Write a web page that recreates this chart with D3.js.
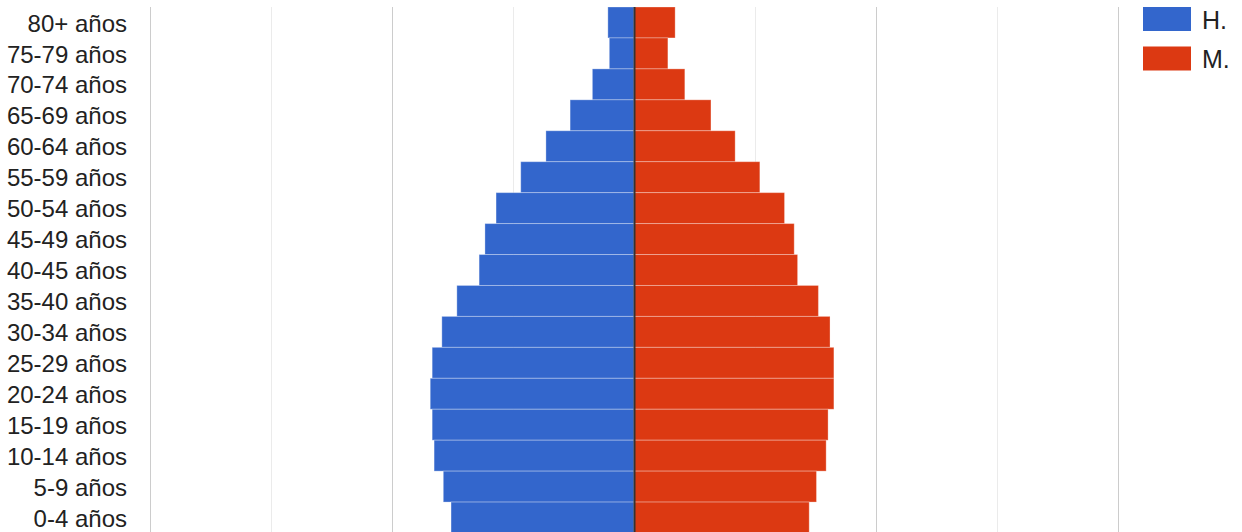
<!DOCTYPE html>
<html>
<head>
<meta charset="utf-8">
<script src="https://cdn.jsdelivr.net/npm/d3@7"></script>
<style>
  html, body { margin: 0; padding: 0; background: #fff; }
  svg { display: block; }
  text { font-family: Arial, "Liberation Sans", sans-serif; }
</style>
</head>
<body>
<svg id="chart" width="1242" height="532"></svg>
<script>
// Age groups, top of the pyramid first
const categories = ["80+ años", "75-79 años", "70-74 años", "65-69 años", "60-64 años",
  "55-59 años", "50-54 años", "45-49 años", "40-45 años", "35-40 años", "30-34 años",
  "25-29 años", "20-24 años", "15-19 años", "10-14 años", "5-9 años", "0-4 años"];
// Share of total population (%)
const hombres = [0.54, 0.51, 0.86, 1.32, 1.82, 2.34, 2.85, 3.08, 3.20, 3.66, 3.97,
  4.17, 4.21, 4.17, 4.13, 3.94, 3.78];
const mujeres = [0.85, 0.70, 1.05, 1.59, 2.09, 2.60, 3.11, 3.31, 3.38, 3.81, 4.05,
  4.13, 4.13, 4.01, 3.97, 3.77, 3.62];
const seriesNames = ["H.", "M."];
const xTicks = [-10, -7.5, -5, -2.5, 0, 2.5, 5, 7.5, 10];

const colors = ["#3366cc", "#dc3912"];
const svg = d3.select("#chart");

const x = d3.scaleLinear().domain([-10, 10]).range([150, 1118]);
const y = d3.scaleBand().domain(categories).range([7, 533]).paddingInner(0);

// gridlines
svg.append("g").selectAll("line")
  .data(xTicks.filter(d => d !== 0))
  .join("line")
  .attr("x1", d => Math.round(x(d)) + 0.5)
  .attr("x2", d => Math.round(x(d)) + 0.5)
  .attr("y1", 7).attr("y2", 532)
  .attr("stroke", d => (d % 5 === 0) ? "#cccccc" : "#ebebeb")
  .attr("stroke-width", 1);

// bars
const rows = categories.map((c, i) => ({ c, h: hombres[i], m: mujeres[i] }));
const bars = svg.append("g");
bars.selectAll("rect.h")
  .data(rows).join("rect").attr("class", "h")
  .attr("x", d => x(-d.h))
  .attr("y", d => y(d.c))
  .attr("width", d => x(0) - x(-d.h))
  .attr("height", y.bandwidth())
  .attr("fill", colors[0])
  .attr("stroke", "#ffffff").attr("stroke-opacity", 0.3).attr("stroke-width", 1);
bars.selectAll("rect.m")
  .data(rows).join("rect").attr("class", "m")
  .attr("x", x(0))
  .attr("y", d => y(d.c))
  .attr("width", d => x(d.m) - x(0))
  .attr("height", y.bandwidth())
  .attr("fill", colors[1])
  .attr("stroke", "#ffffff").attr("stroke-opacity", 0.3).attr("stroke-width", 1);

// baseline
svg.append("line")
  .attr("x1", x(0) + 0.5).attr("x2", x(0) + 0.5)
  .attr("y1", 7).attr("y2", 532)
  .attr("stroke", "#333333").attr("stroke-width", 2);

// category labels
const yAxis = d3.axisLeft(y).tickSize(0).tickPadding(0);
const ag = svg.append("g").attr("transform", "translate(127,0)").call(yAxis);
ag.select(".domain").remove();
ag.selectAll("text")
  .attr("font-size", 24)
  .attr("font-family", "Arial, 'Liberation Sans', sans-serif")
  .attr("fill", "#222222")
  .attr("dy", "0.38em");

// legend
const lg = svg.append("g");
seriesNames.forEach((s, i) => {
  const yy = 7 + i * 39.5;
  lg.append("rect").attr("x", 1143).attr("y", yy).attr("width", 48).attr("height", 24)
    .attr("fill", colors[i]);
  lg.append("text").attr("x", 1202).attr("y", yy + 12).attr("dy", "0.38em")
    .attr("font-size", 25).attr("fill", "#222222").text(s);
});
</script>
</body>
</html>
